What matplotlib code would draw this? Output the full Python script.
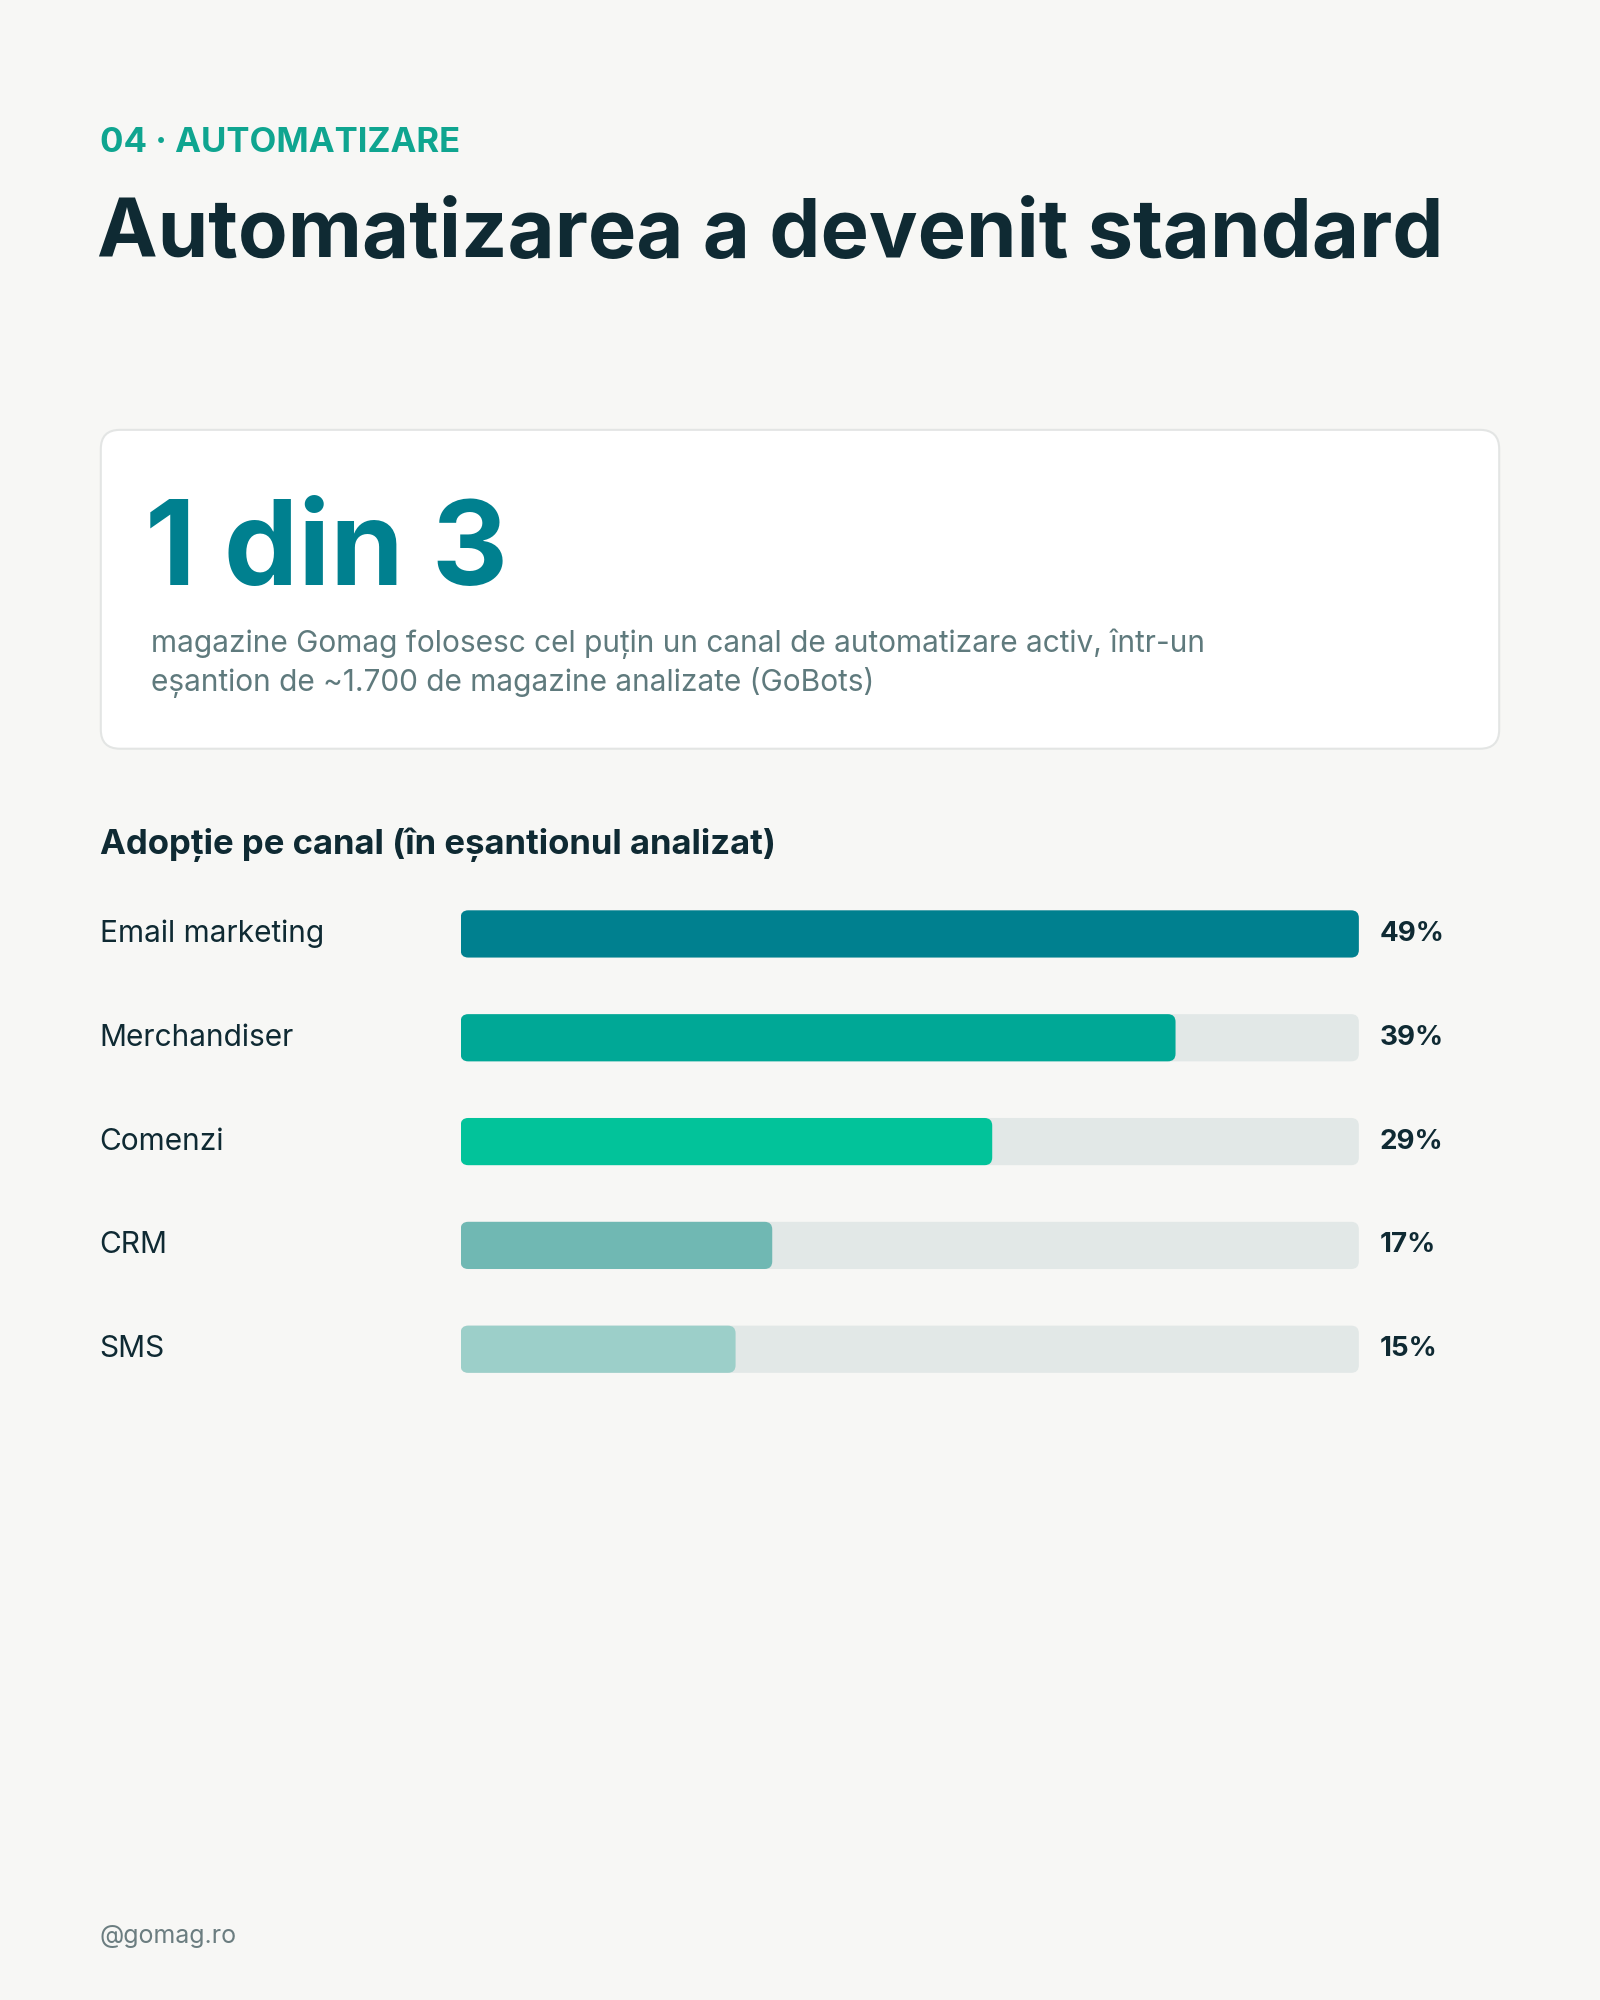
import matplotlib
matplotlib.use("Agg")
import matplotlib.pyplot as plt
from matplotlib.patches import FancyBboxPatch

categories = ["Email marketing", "Merchandiser", "Comenzi", "CRM", "SMS"]
values = [49, 39, 29, 17, 15]
value_labels = ["49%", "39%", "29%", "17%", "15%"]
colors = ["#00808f", "#00a896", "#02c39a", "#70b8b3", "#9ccfc9"]
max_value = 49

W, H = 1254, 1568
plt.rcParams['font.family'] = ['Inter', 'DejaVu Sans']
fig = plt.figure(figsize=(16, 20), dpi=100)
fig.patch.set_facecolor("#f7f7f5")

def fx(x): return x / W
def fy(y): return 1 - y / H

DARK = "#0f2a33"
fig.text(fx(78), fy(112), "04 · AUTOMATIZARE", color="#0fa590", fontsize=25,
         fontweight="bold", va="center", ha="left")
fig.text(fx(76), fy(185), "Automatizarea a devenit standard", color=DARK,
         fontsize=58.5, fontweight="bold", va="center", ha="left")

card = FancyBboxPatch((fx(79), fy(587)), fx(1175) - fx(79), fy(337) - fy(587),
                      boxstyle="round,pad=0,rounding_size=0.012",
                      transform=fig.transFigure, facecolor="white",
                      edgecolor="#e3e5e4", linewidth=1.5, mutation_aspect=0.8)
fig.patches.append(card)
fig.text(fx(114), fy(434), "1 din 3", color="#00808f", fontsize=85,
         fontweight="bold", va="center", ha="left")
fig.text(fx(118), fy(505), "magazine Gomag folosesc cel puțin un canal de automatizare activ, într-un",
         color="#5f7a7d", fontsize=21.5, va="center", ha="left")
fig.text(fx(118), fy(535), "eșantion de ~1.700 de magazine analizate (GoBots)",
         color="#5f7a7d", fontsize=21.5, va="center", ha="left")

fig.text(fx(78), fy(662), "Adopție pe canal (în eșantionul analizat)", color=DARK,
         fontsize=25, fontweight="bold", va="center", ha="left")

top, bottom = 691.5, 1098.5
ax = fig.add_axes([fx(361), fy(bottom), fx(1065) - fx(361), (bottom - top) / H])
ax.set_xlim(0, max_value)
ax.set_ylim(len(values) - 0.5, -0.5)
ax.axis("off")
bh = 37 / 81.4
asp = (1 / 81.4) / (max_value / 704)
r = 6 * max_value / 704
for i, (cat, v, lab, c) in enumerate(zip(categories, values, value_labels, colors)):
    ax.add_patch(FancyBboxPatch((0, i - bh / 2), max_value, bh,
                                boxstyle=f"round,pad=0,rounding_size={r}",
                                mutation_aspect=asp, facecolor="#e2e8e7", edgecolor="none"))
    ax.add_patch(FancyBboxPatch((0, i - bh / 2), v, bh,
                                boxstyle=f"round,pad=0,rounding_size={r}",
                                mutation_aspect=asp, facecolor=c, edgecolor="none"))
    ax.text(max_value + 16 * max_value / 704, i, lab, color=DARK, fontsize=20,
            fontweight="bold", va="center", ha="left", clip_on=False)
    ax.text(-283 * max_value / 704, i, cat, color=DARK, fontsize=21.5,
            va="center", ha="left", clip_on=False)

fig.text(fx(78), fy(1518), "@gomag.ro", color="#6b7d80", fontsize=18,
         va="center", ha="left")

fig.savefig("out.png", dpi=100, facecolor=fig.get_facecolor())
